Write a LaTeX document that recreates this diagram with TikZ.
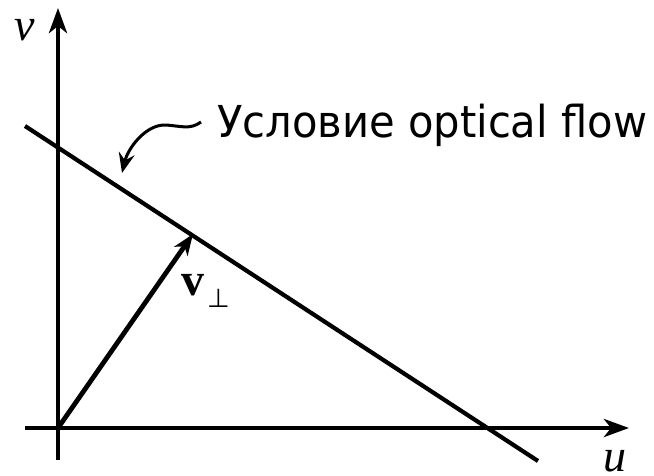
\documentclass[tikz,border=0pt]{standalone}
\usepackage{fontspec}
\setmainfont{Liberation Serif}
\newfontfamily\labfont{DejaVu Sans}
\usetikzlibrary{arrows.meta}
\begin{document}
\begin{tikzpicture}[x=1pt,y=-1pt,
  axis/.style={line width=4.8pt,-{Stealth[length=25pt,width=18pt,inset=7pt]}},
  flowline/.style={line width=4.2pt},
  vecline/.style={line width=4.8pt,-{Stealth[length=21pt,width=16pt,inset=6pt]}},
  pointer/.style={line width=3pt,-{Stealth[length=20pt,width=16pt,inset=7pt]}},
  lab/.style={inner sep=0pt,font=\fontsize{46}{50}\selectfont}]
\useasboundingbox (0,0) rectangle (654,475);
\coordinate (vb) at (58,460);
\coordinate (vt) at (58,8);
\coordinate (ul) at (25,428);
\coordinate (ur) at (629,428);
\coordinate (O) at (58,428);
\coordinate (la) at (25,126);
\coordinate (lb) at (538,461);
\coordinate (tip) at (193,234);
\coordinate (ps) at (201,122);
\coordinate (pe) at (122,173);
\draw[axis] (vb) -- (vt);
\draw[axis] (ul) -- (ur);
\draw[flowline] (la) -- (lb);
\draw[vecline] (O) -- (tip);
\node[lab,anchor=base] (vlab) at (25,40) {\textit{v}};
\node[lab,anchor=base] (ulab) at (615,471) {\textit{u}};
\node[lab,anchor=base west] (vperp) at (181,295) {\textbf{v}\hspace{3pt}\raisebox{-12pt}{\labfont\fontsize{26}{28}\selectfont ⊥}};
\node[inner sep=0pt,anchor=base west,font=\labfont\fontsize{44}{48}\selectfont] (cond) at (217,137) {\resizebox{430pt}{\height}{Условие optical flow}};
\draw[pointer] (ps) .. controls (190,130) and (181,126) .. (166,125) .. controls (146,124) and (128,148) .. (pe);
\end{tikzpicture}
\end{document}
